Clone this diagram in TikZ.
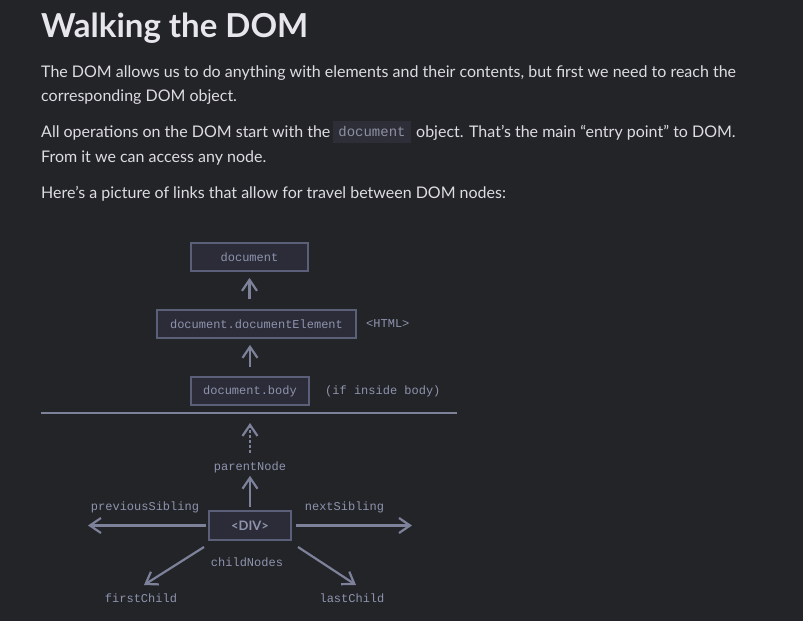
\documentclass[tikz,border=0pt]{standalone}
\usepackage{fontspec}
\setmainfont{Lato}
\newfontfamily\codefont{Liberation Mono}
\usetikzlibrary{arrows.meta}
\definecolor{bg}{HTML}{232428}
\definecolor{headcol}{HTML}{E6E6EC}
\definecolor{bodycol}{HTML}{DCDCE2}
\definecolor{codebg}{HTML}{2D2E37}
\definecolor{codecol}{HTML}{8D91A2}
\definecolor{dtext}{HTML}{8E94AE}
\definecolor{boxfill}{HTML}{2B2C37}
\definecolor{boxline}{HTML}{5B5F77}
\definecolor{arrcol}{HTML}{7D8199}
\tikzset{
  para/.style={anchor=base west, inner sep=0pt, text=bodycol, font=\fontsize{16}{19}\selectfont},
  dbox/.style={draw=boxline, fill=boxfill, line width=1.8pt, inner sep=0pt, text=dtext,
    font=\codefont\fontsize{12}{14}\selectfont, minimum height=28pt},
  lbl/.style={inner sep=1pt, text=dtext, font=\codefont\fontsize{12}{14}\selectfont},
  arr/.style={draw=arrcol, line width=2.2pt, -{Straight Barb[length=11pt,width=15pt,line width=2.2pt]}},
}
\begin{document}
\begin{tikzpicture}[x=1pt,y=-1pt]
\fill[bg] (0,0) rectangle (803,621);
\useasboundingbox (0,0) rectangle (803,621);

% heading and text
\node[anchor=base west, inner sep=0pt, text=headcol, font=\bfseries\fontsize{33}{38}\selectfont] (title) at (41,37.3) {Walking the DOM};
\node[para] (p1a) at (41,77.7) {The DOM allows us to do anything with elements and their contents, but first we need to reach the};
\node[para] (p1b) at (41,101.7) {corresponding DOM object.};
\node[para] (p2a) at (41,137.7) {All operations on the DOM start with the};
\node[fill=codebg, inner sep=0pt, minimum width=78pt, minimum height=22pt, text=codecol, font=\codefont\fontsize{14}{16}\selectfont] (code) at (372,132) {document};
\node[para] (p2c) at (416,137.7) {object. That’s the main “entry point” to DOM.};
\node[para] (p2b) at (41,162.7) {From it we can access any node.};
\node[para] (p3) at (41,198.5) {Here’s a picture of links that allow for travel between DOM nodes:};

% diagram boxes
\node[dbox, minimum width=117pt] (doc) at (249.5,257) {document};
\node[dbox, minimum width=199pt] (docel) at (256.5,324) {document.documentElement};
\node[lbl, anchor=west] (html) at (365,324) {<HTML>};
\node[dbox, minimum width=118pt] (body) at (250,391) {document.body};
\node[lbl, anchor=west] (ifbody) at (324,391) {(if inside body)};

\draw[arr, shorten <=10pt, shorten >=6pt] (doc.south |- docel.north) -- (doc.south);
\draw[arr, shorten <=9pt, shorten >=6pt] (body.north) -- (body.north |- docel.south);

% separator
\coordinate (lineL) at (41,413);
\coordinate (lineR) at (457,413);
\draw[draw=arrcol, line width=2pt] (lineL) -- (lineR);

% DIV node and labels
\node[dbox, minimum width=82pt, minimum height=29pt, font=\bfseries\fontsize{13}{15}\selectfont] (div) at (250,525.5) {<DIV>};
\node[lbl] (parent) at (250,467) {parentNode};
\node[lbl] (prev) at (145,507) {previousSibling};
\node[lbl] (next) at (344.5,507) {nextSibling};
\node[lbl] (child) at (247,562) {childNodes};
\node[lbl] (first) at (141,598) {firstChild};
\node[lbl] (last) at (352,598) {lastChild};

\coordinate (prevtip) at (88,525.5);
\coordinate (nexttip) at (412,525.5);
\coordinate (firsttail) at (204,547);
\coordinate (firsttip) at (144,585);
\coordinate (lasttail) at (298,547);
\coordinate (lasttip) at (356,585);

\draw[arr, dash pattern=on 3pt off 2pt, shorten <=7pt, shorten >=10pt] (parent.north) -- (parent.north |- lineL);
\draw[arr, shorten <=3pt, shorten >=2pt] (div.north) -- (parent.south);
\draw[arr, shorten <=2pt] (div.west) -- (prevtip);
\draw[arr, shorten <=4pt] (div.east) -- (nexttip);
\draw[arr] (firsttail) -- (firsttip);
\draw[arr] (lasttail) -- (lasttip);
\end{tikzpicture}
\end{document}
